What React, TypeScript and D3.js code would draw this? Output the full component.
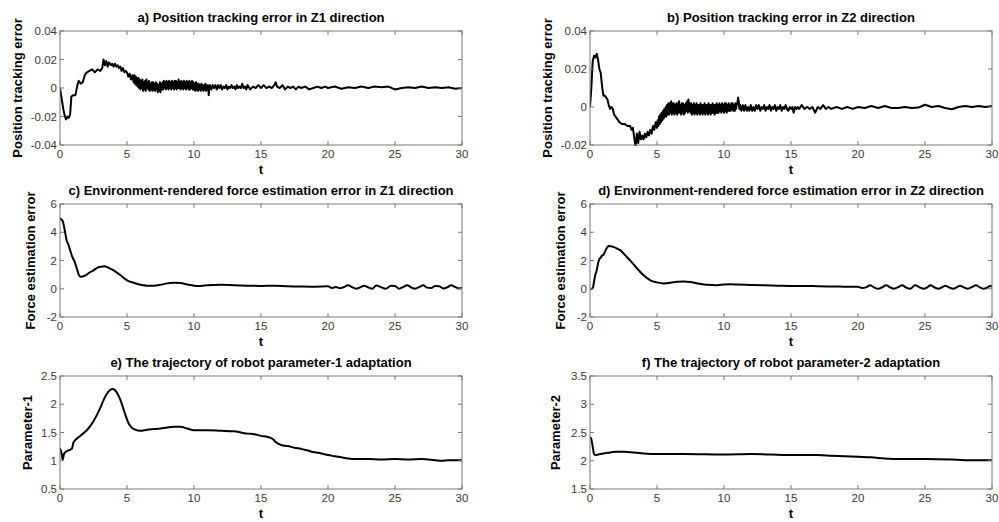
import React from "react";
import * as d3 from "d3";

// ---------- DATA ----------
const xTicks = [0, 5, 10, 15, 20, 25, 30];

const yTicksA = [-0.04, -0.02, 0, 0.02, 0.04];
const yTicksB = [-0.02, 0, 0.02, 0.04];
const yTicksCD = [-2, 0, 2, 4, 6];
const yTicksE = [0.5, 1, 1.5, 2, 2.5];
const yTicksF = [1.5, 2, 2.5, 3, 3.5];

const titles = [
  "a) Position tracking error in Z1 direction",
  "b) Position tracking error in Z2 direction",
  "c) Environment-rendered force estimation error in Z1 direction",
  "d) Environment-rendered force estimation error in Z2 direction",
  "e) The trajectory of robot parameter-1 adaptation",
  "f) The trajectory of robot parameter-2 adaptation",
];
const yLabels = [
  "Position tracking error",
  "Position tracking error",
  "Force estimation error",
  "Force estimation error",
  "Parameter-1",
  "Parameter-2",
];

// a) position error Z1 — transient part [t, e]
const headA: [number, number][] = [
  [0, 0], [0.1, -0.006], [0.25, -0.015], [0.37, -0.02], [0.45, -0.022], [0.55, -0.02], [0.65, -0.021], [0.75, -0.019],
  [0.85, -0.006], [1.0, -0.005], [1.15, -0.005], [1.3, 0.002], [1.4, 0.005], [1.55, 0.003], [1.7, 0.004], [1.85, 0.009],
  [2.0, 0.011], [2.2, 0.012], [2.4, 0.013], [2.6, 0.011], [2.8, 0.013], [3.0, 0.012], [3.15, 0.014], [3.25, 0.02],
  [3.35, 0.016], [3.45, 0.019], [3.55, 0.015], [3.65, 0.018], [3.8, 0.016], [3.9, 0.017], [4.0, 0.015], [4.1, 0.017],
  [4.2, 0.015], [4.3, 0.016], [4.4, 0.014], [4.5, 0.015], [4.6, 0.012], [4.7, 0.014], [4.8, 0.011], [4.9, 0.012],
  [5.0, 0.011], [5.1, 0.008], [5.2, 0.01], [5.3, 0.006], [5.4, 0.009],
];
// a) dense noisy band, sampled every 0.05 s from t = 5.5
const noiseA_t0 = 5.5;
const noiseA_dt = 0.05;
const noiseA = [
  0.004, 0.009, 0.003, 0.008, 0.002, 0.007, 0.001, 0.007, 0.0, 0.006,
  -0.001, 0.005, 0.0, 0.006, -0.002, 0.004, -0.001, 0.005, -0.002, 0.006,
  0.0, 0.004, -0.001, 0.005, -0.002, 0.003, -0.001, 0.004, -0.002, 0.004,
  -0.001, 0.003, -0.002, 0.004, -0.001, 0.003, -0.003, 0.002, -0.002, 0.004,
  -0.003, 0.003, -0.001, 0.004, -0.001, 0.005, 0.0, 0.004, -0.001, 0.005,
  0.0, 0.004, -0.001, 0.005, 0.0, 0.004, -0.001, 0.005, 0.0, 0.004,
  -0.001, 0.005, 0.0, 0.005, -0.001, 0.004, 0.0, 0.006, 0.0, 0.004,
  -0.001, 0.005, 0.0, 0.004, -0.001, 0.005, 0.0, 0.004, -0.001, 0.005,
  0.0, 0.004, -0.001, 0.005, -0.001, 0.004, 0.0, 0.005, -0.001, 0.004,
  -0.001, 0.003, -0.002, 0.004, -0.001, 0.003, -0.002, 0.003, -0.001, 0.002,
  -0.002, 0.003, -0.001, 0.002, -0.002, 0.002, -0.001, 0.003, -0.002, 0.002,
  -0.001, 0.002, -0.005, 0.001,
];
const tailA: [number, number][] = [
  [11.2, 0.002], [11.3, -0.001], [11.4, 0.002], [11.5, 0.0], [11.6, 0.002], [11.7, -0.001], [11.8, 0.002], [11.9, 0.0],
  [12.0, 0.002], [12.1, -0.001], [12.2, 0.001], [12.3, 0.0], [12.4, 0.002], [12.5, -0.001], [12.6, 0.001], [12.7, 0.0],
  [12.8, 0.002], [12.9, 0.0], [13.0, 0.001], [13.1, -0.001], [13.2, 0.002], [13.3, 0.0], [13.4, 0.001], [13.5, 0.0],
  [13.6, 0.003], [13.7, 0.0], [13.8, 0.001], [13.9, -0.001], [14.0, 0.002], [14.2, -0.001], [14.4, 0.001], [14.6, 0.0],
  [14.8, 0.002], [15.0, 0.0], [15.2, 0.002], [15.4, 0.0], [15.6, 0.001], [15.8, 0.0], [16.0, 0.002], [16.1, 0.004],
  [16.2, 0.001], [16.4, 0.0], [16.6, 0.002], [16.8, -0.001], [17.0, 0.001], [17.2, 0.0], [17.4, 0.001], [17.6, -0.001],
  [17.8, 0.001], [18.0, 0.0], [18.3, 0.001], [18.6, -0.001], [18.9, 0.0], [19.2, 0.001], [19.5, 0.0], [19.8, 0.001],
  [20.0, 0.0], [20.5, 0.001], [21.0, -0.0005], [21.5, 0.0005], [22.0, 0.0], [22.5, 0.001], [23.0, 0.0], [23.5, 0.001],
  [24.0, 0.0005], [24.5, 0.001], [25.0, -0.001], [25.5, 0.0], [26.0, 0.0005], [26.5, 0.0], [27.0, 0.001], [27.5, 0.0],
  [28.0, 0.0005], [28.5, 0.0], [29.0, 0.0005], [29.5, -0.0005], [30.0, 0.0],
];

// b) position error Z2
const headB: [number, number][] = [
  [0, 0], [0.1, 0.01], [0.2, 0.024], [0.3, 0.027], [0.4, 0.026], [0.5, 0.028], [0.6, 0.025], [0.7, 0.02],
  [0.8, 0.018], [0.9, 0.011], [1.0, 0.006], [1.1, 0.006], [1.2, 0.005], [1.3, 0.004], [1.4, 0.001], [1.5, -0.001],
  [1.6, 0.0], [1.7, -0.001], [1.8, -0.004], [1.9, -0.005], [2.0, -0.006], [2.2, -0.008], [2.4, -0.009], [2.6, -0.009],
  [2.8, -0.01], [3.0, -0.01], [3.1, -0.012], [3.2, -0.011], [3.3, -0.016], [3.4, -0.021], [3.5, -0.014], [3.6, -0.019],
  [3.7, -0.013], [3.8, -0.017], [3.9, -0.015], [4.0, -0.017], [4.1, -0.014], [4.2, -0.016], [4.3, -0.013], [4.4, -0.015],
  [4.5, -0.012], [4.6, -0.014], [4.7, -0.01], [4.8, -0.012], [4.9, -0.008],
];
const noiseB_t0 = 5.0;
const noiseB_dt = 0.05;
const noiseB = [
  -0.011, -0.007, -0.01, -0.005, -0.009, -0.004, -0.008, -0.003, -0.007, -0.002,
  -0.006, -0.001, -0.005, 0.0, -0.005, 0.001, -0.004, 0.002, -0.004, 0.002,
  -0.003, 0.003, -0.004, 0.002, -0.003, 0.002, -0.004, 0.001, -0.003, 0.002,
  -0.004, 0.002, -0.003, 0.003, -0.003, 0.001, -0.004, 0.002, -0.003, 0.002,
  -0.004, 0.001, -0.003, 0.002, -0.002, 0.003, -0.003, 0.004, -0.002, 0.002,
  -0.003, 0.002, -0.004, 0.001, -0.003, 0.002, -0.004, 0.001, -0.003, 0.002,
  -0.004, 0.001, -0.003, 0.001, -0.004, 0.002, -0.003, 0.001, -0.004, 0.001,
  -0.003, 0.002, -0.004, 0.001, -0.003, 0.001, -0.004, 0.002, -0.003, 0.001,
  -0.004, 0.001, -0.003, 0.002, -0.003, 0.001, -0.004, 0.001, -0.003, 0.002,
  -0.003, 0.001, -0.003, 0.002, -0.002, 0.001, -0.003, 0.002, -0.002, 0.001,
  -0.003, 0.002, -0.002, 0.002, -0.003, 0.001, -0.002, 0.002, -0.002, 0.001,
  -0.002, 0.002, -0.001, 0.002, -0.002, 0.001, -0.002, 0.002, -0.001, 0.001,
  0.002,
];
const tailB: [number, number][] = [
  [11.05, 0.005], [11.1, 0.003], [11.15, -0.001], [11.2, 0.001], [11.3, -0.002], [11.4, 0.001], [11.5, -0.002],
  [11.6, 0.001], [11.7, -0.002], [11.8, 0.0], [11.9, -0.002], [12.0, 0.001], [12.1, -0.002], [12.2, 0.0], [12.3, -0.002],
  [12.4, 0.001], [12.5, -0.001], [12.6, 0.001], [12.7, -0.002], [12.8, 0.0], [12.9, -0.001], [13.0, 0.001], [13.1, -0.002],
  [13.2, 0.0], [13.3, -0.001], [13.4, 0.001], [13.5, -0.002], [13.6, 0.0], [13.7, -0.001], [13.8, 0.001], [13.9, -0.002],
  [14.0, 0.0], [14.1, -0.001], [14.2, 0.001], [14.3, -0.002], [14.4, 0.0], [14.5, -0.001], [14.6, 0.001], [14.7, -0.001],
  [14.8, -0.002], [14.9, 0.0], [15.0, -0.001], [15.1, 0.0], [15.2, -0.003], [15.3, 0.0], [15.4, -0.001], [15.5, 0.0],
  [15.6, -0.001], [15.8, 0.001], [16.0, -0.001], [16.2, 0.0], [16.4, -0.001], [16.6, 0.0], [16.8, -0.003], [17.0, 0.0],
  [17.2, -0.001], [17.4, 0.001], [17.6, -0.001], [17.8, 0.0], [18.0, -0.001], [18.4, 0.0], [18.8, -0.001], [19.2, 0.0],
  [19.6, -0.001], [20.0, 0.0], [20.5, -0.0005], [21.0, 0.0005], [21.5, -0.0005], [22.0, 0.0005], [22.5, -0.0005],
  [23.0, -0.0005], [23.5, 0.0], [24.0, -0.0005], [24.5, -0.0003], [25.0, 0.0012], [25.5, 0.0], [26.0, 0.0005],
  [26.5, -0.0005], [27.0, -0.0012], [27.5, 0.0], [28.0, 0.0005], [28.5, 0.0], [29.0, 0.0005], [29.5, 0.0], [30.0, 0.0005],
];

// c) force estimation error Z1
const seriesC: [number, number][] = [
  [0, 5.0], [0.1, 4.9], [0.2, 4.8], [0.3, 4.4], [0.4, 3.9], [0.5, 3.4], [0.6, 3.2], [0.7, 2.9], [0.8, 2.6], [0.9, 2.3],
  [1.0, 2.1], [1.1, 1.9], [1.2, 1.6], [1.3, 1.3], [1.4, 1.0], [1.5, 0.85], [1.6, 0.85], [1.8, 0.9], [2.0, 1.0],
  [2.2, 1.15], [2.5, 1.3], [2.8, 1.5], [3.0, 1.55], [3.3, 1.6], [3.6, 1.5], [4.0, 1.3], [4.5, 0.97], [5.0, 0.6],
  [5.5, 0.42], [6.0, 0.28], [6.5, 0.22], [7.0, 0.22], [7.5, 0.28], [8.0, 0.38], [8.5, 0.42], [9.0, 0.4], [9.5, 0.3],
  [10.0, 0.22], [10.5, 0.2], [11, 0.25], [11.5, 0.27], [12, 0.28], [13, 0.25], [14, 0.22], [15, 0.2], [16, 0.22],
  [17, 0.18], [18, 0.16], [19, 0.15], [20, 0.17], [20.3, 0.06], [20.6, 0.12], [20.9, 0.03], [21.2, 0.12], [21.5, 0.25],
  [21.8, 0.12], [22.1, 0.0], [22.4, 0.1], [22.7, 0.22], [23.0, 0.1], [23.3, 0.0], [23.6, 0.23], [24.0, 0.1], [24.3, 0.0],
  [24.7, 0.22], [25.0, 0.2], [25.3, 0.0], [25.6, 0.12], [25.9, 0.25], [26.2, 0.1], [26.5, 0.0], [26.8, 0.12], [27.1, 0.24],
  [27.4, 0.08], [27.7, 0.05], [28.0, 0.2], [28.3, 0.18], [28.6, 0.02], [28.9, 0.1], [29.2, 0.24], [29.5, 0.12],
  [29.8, 0.02], [30, 0.05],
];

// d) force estimation error Z2
const seriesD: [number, number][] = [
  [0, 0], [0.2, 0.02], [0.3, 0.5], [0.4, 1.0], [0.5, 1.3], [0.6, 1.8], [0.7, 2.1], [0.8, 2.2], [0.9, 2.35], [1.0, 2.4],
  [1.1, 2.6], [1.2, 2.8], [1.3, 2.95], [1.4, 3.03], [1.6, 3.0], [1.8, 2.95], [2.0, 2.85], [2.3, 2.7], [2.6, 2.4],
  [3.0, 2.0], [3.5, 1.45], [4.0, 0.95], [4.5, 0.6], [5.0, 0.45], [5.5, 0.38], [6.0, 0.42], [6.5, 0.5], [7.0, 0.52],
  [7.5, 0.48], [8.0, 0.38], [8.5, 0.3], [9.0, 0.27], [9.5, 0.25], [10.0, 0.3], [10.5, 0.32], [11, 0.3], [12, 0.27],
  [13, 0.24], [14, 0.22], [15, 0.2], [16, 0.2], [17, 0.18], [18, 0.16], [19, 0.15], [20, 0.14], [20.3, 0.05],
  [20.6, 0.1], [20.9, 0.24], [21.2, 0.1], [21.5, 0.0], [21.8, 0.1], [22.1, 0.25], [22.4, 0.1], [22.7, 0.0], [23.0, 0.12],
  [23.3, 0.24], [23.6, 0.08], [23.9, 0.0], [24.25, 0.24], [24.6, 0.1], [24.9, 0.0], [25.2, 0.12], [25.4, 0.25],
  [25.7, 0.1], [26.0, 0.0], [26.3, 0.12], [26.5, 0.22], [26.8, 0.1], [27.1, 0.0], [27.4, 0.12], [27.6, 0.22],
  [27.9, 0.1], [28.2, 0.0], [28.5, 0.12], [28.8, 0.24], [29.1, 0.1], [29.4, 0.0], [29.7, 0.12], [29.9, 0.22], [30, 0.1],
];

// e) robot parameter-1
const seriesE: [number, number][] = [
  [0, 1.22], [0.1, 1.15], [0.2, 1.02], [0.3, 1.12], [0.4, 1.15], [0.6, 1.18], [0.8, 1.2], [0.9, 1.22], [1.0, 1.32],
  [1.2, 1.38], [1.5, 1.44], [2.0, 1.54], [2.5, 1.7], [3.0, 1.93], [3.3, 2.1], [3.6, 2.22], [3.9, 2.27], [4.1, 2.25],
  [4.3, 2.18], [4.5, 2.08], [4.7, 1.94], [4.9, 1.8], [5.1, 1.67], [5.3, 1.6], [5.6, 1.55], [6.0, 1.53], [6.5, 1.55],
  [7.0, 1.56], [7.5, 1.57], [8.0, 1.59], [8.5, 1.6], [9.0, 1.6], [9.5, 1.57], [10, 1.54], [11, 1.54], [12, 1.53],
  [13, 1.52], [13.5, 1.5], [14, 1.48], [14.5, 1.47], [15, 1.44], [15.5, 1.42], [15.9, 1.38], [16.1, 1.33], [16.5, 1.28],
  [17, 1.26], [17.5, 1.23], [18, 1.21], [18.5, 1.18], [19, 1.15], [19.5, 1.13], [20, 1.1], [20.5, 1.08], [21, 1.06],
  [21.5, 1.04], [22, 1.03], [23, 1.03], [24, 1.02], [25, 1.03], [26, 1.02], [27, 1.03], [28, 1.01], [28.5, 1.0],
  [29, 1.01], [30, 1.01],
];

// f) robot parameter-2
const seriesF: [number, number][] = [
  [0, 2.42], [0.1, 2.38], [0.2, 2.25], [0.3, 2.12], [0.4, 2.1], [0.6, 2.11], [0.8, 2.12], [1.0, 2.13], [1.3, 2.14],
  [1.6, 2.15], [2, 2.16], [2.5, 2.16], [3, 2.15], [3.5, 2.14], [4, 2.13], [5, 2.12], [7, 2.12], [10, 2.11], [12, 2.12],
  [15, 2.1], [17, 2.1], [18, 2.09], [19, 2.08], [20, 2.07], [21, 2.06], [22, 2.04], [23, 2.03], [25, 2.03], [27, 2.02],
  [28, 2.01], [30, 2.01],
];

// assemble sampled noise runs into [t, value] pairs
const sampled = (t0: number, dt: number, vals: number[]): [number, number][] =>
  vals.map((v, i) => [t0 + i * dt, v]);
const seriesA = [...headA, ...sampled(noiseA_t0, noiseA_dt, noiseA), ...tailA];
const seriesB = [...headB, ...sampled(noiseB_t0, noiseB_dt, noiseB), ...tailB];

// ---------- LAYOUT ----------
const COLS = [60, 590];
const ROWS = [31, 204, 376];
const PW = 402;
const PH = [114, 113, 113];
const YLABEL_X = [17, 547, 30, 560, 27, 555];

type PanelSpec = {
  series: [number, number][];
  yDomain: [number, number];
  yTicks: number[];
  smooth: boolean;
};

const panels: PanelSpec[] = [
  { series: seriesA, yDomain: [-0.04, 0.04], yTicks: yTicksA, smooth: false },
  { series: seriesB, yDomain: [-0.02, 0.04], yTicks: yTicksB, smooth: false },
  { series: seriesC, yDomain: [-2, 6], yTicks: yTicksCD, smooth: true },
  { series: seriesD, yDomain: [-2, 6], yTicks: yTicksCD, smooth: true },
  { series: seriesE, yDomain: [0.5, 2.5], yTicks: yTicksE, smooth: true },
  { series: seriesF, yDomain: [1.5, 3.5], yTicks: yTicksF, smooth: true },
];

const FONT = "Arial, 'Liberation Sans', sans-serif";
const AXIS = "#7a7a7a";
const TICKTXT = "#3a3a3a";

function Panel({ idx }: { idx: number }) {
  const spec = panels[idx];
  const col = idx % 2;
  const row = Math.floor(idx / 2);
  const x0 = COLS[col];
  const y0 = ROWS[row];
  const h = PH[row];
  const x = d3.scaleLinear().domain([0, 30]).range([x0, x0 + PW]);
  const y = d3.scaleLinear().domain(spec.yDomain).range([y0 + h, y0]);
  const line = d3
    .line<[number, number]>()
    .x((d) => x(d[0]))
    .y((d) => y(d[1]))
    .curve(spec.smooth ? d3.curveMonotoneX : d3.curveLinear);
  const clipId = `clip${idx}`;
  const fmt = (v: number) => (v === 0 ? "0" : String(v));
  const tl = 4;
  return (
    <g>
      <defs>
        <clipPath id={clipId}>
          <rect x={x0} y={y0 - 1} width={PW} height={h + 2} />
        </clipPath>
      </defs>
      <path
        d={line(spec.series) || ""}
        fill="none"
        stroke="#000"
        strokeWidth={2}
        strokeLinejoin="round"
        clipPath={`url(#${clipId})`}
      />
      <rect x={x0} y={y0} width={PW} height={h} fill="none" stroke={AXIS} strokeWidth={1} />
      {xTicks.map((t) => (
        <g key={"x" + t}>
          <line x1={x(t)} x2={x(t)} y1={y0 + h} y2={y0 + h - tl} stroke={AXIS} />
          <line x1={x(t)} x2={x(t)} y1={y0} y2={y0 + tl} stroke={AXIS} />
          <text x={x(t)} y={y0 + h + 13} textAnchor="middle" fontFamily={FONT} fontSize={11.5} fill={TICKTXT}>
            {t}
          </text>
        </g>
      ))}
      {spec.yTicks.map((v) => (
        <g key={"y" + v}>
          <line x1={x0} x2={x0 + tl} y1={y(v)} y2={y(v)} stroke={AXIS} />
          <line x1={x0 + PW} x2={x0 + PW - tl} y1={y(v)} y2={y(v)} stroke={AXIS} />
          <text x={x0 - 3} y={y(v)} dy="0.35em" textAnchor="end" fontFamily={FONT} fontSize={11.5} fill={TICKTXT}>
            {fmt(v)}
          </text>
        </g>
      ))}
      <text x={x0 + PW / 2} y={y0 - 9} textAnchor="middle" fontFamily={FONT} fontWeight="bold" fontSize={13} fill="#000">
        {titles[idx]}
      </text>
      <text x={x0 + PW / 2} y={y0 + h + 29} textAnchor="middle" fontFamily={FONT} fontWeight="bold" fontSize={13} fill="#000">
        t
      </text>
      <text
        transform={`translate(${YLABEL_X[idx]},${y0 + h / 2}) rotate(-90)`}
        dy="0.35em"
        textAnchor="middle"
        fontFamily={FONT}
        fontWeight="bold"
        fontSize={13}
        fill="#000"
      >
        {yLabels[idx]}
      </text>
    </g>
  );
}

export default function App() {
  return (
    <svg width={999} height={522} style={{ position: "absolute", left: 0, top: 0, background: "#fff" }}>
      <rect x={0} y={0} width={999} height={522} fill="#fff" />
      {panels.map((_, i) => (
        <Panel key={i} idx={i} />
      ))}
    </svg>
  );
}
